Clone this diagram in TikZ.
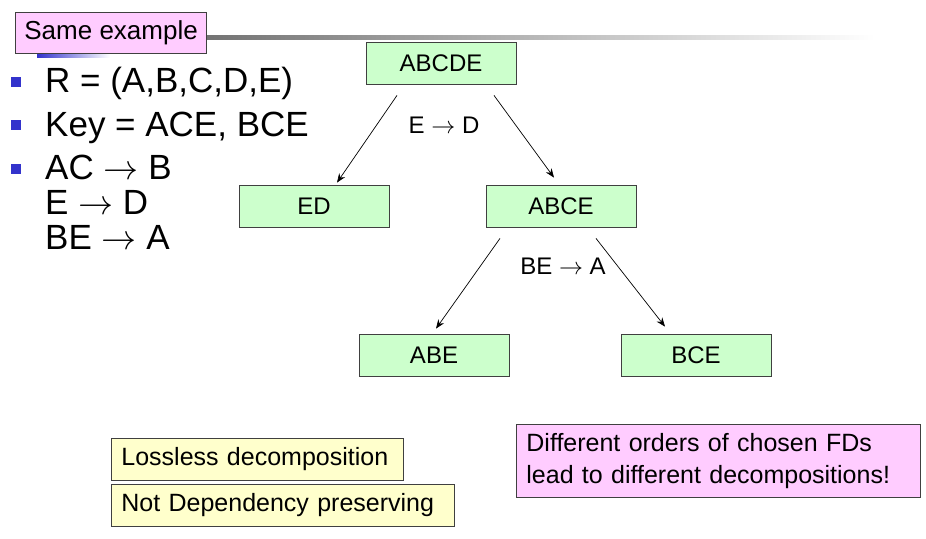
\documentclass[tikz,border=0pt]{standalone}
\DeclareFontFamily{OMS}{cmsy}{\skewchar\font48 }
\DeclareFontShape{OMS}{cmsy}{m}{n}{<-6>cmsy5<6-8>cmsy7<8->cmsy10}{}
\usepackage{fontspec}
\setmainfont{Liberation Sans}
\usepackage{tikz}
\usetikzlibrary{arrows.meta, positioning}
\definecolor{verdeRel}{RGB}{204,255,204}
\definecolor{amarilloNota}{RGB}{255,255,204}
\definecolor{rosaNota}{RGB}{255,204,255}
\definecolor{azulBullet}{RGB}{51,51,204}
\tikzset{
  dc/rel/.style={rectangle, draw=black!75, fill=verdeRel,
    minimum width=150pt, minimum height=42pt, inner sep=0pt,
    font=\fontsize{24}{27}\selectfont, line width=0.8pt},
  dc/note/.style={rectangle, draw=black!75, fill=amarilloNota,
    anchor=north west, minimum height=42pt, inner xsep=10pt, inner ysep=0pt,
    font=\fontsize{25}{32}\selectfont, align=left, line width=0.8pt},
  dc/pink/.style={dc/note, fill=rosaNota},
  dc/txt/.style={anchor=base west, inner sep=0pt, align=left,
    font=\fontsize{35}{35}\selectfont},
  dc/bul/.style={rectangle, fill=azulBullet, minimum size=10pt, inner sep=0pt},
  dc/fd/.style={font=\fontsize{24}{27}\selectfont, inner sep=0pt},
  dc/arr/.style={-{Stealth[length=9pt,width=7pt]}, line width=0.7pt}
}
\begin{document}
\begin{tikzpicture}[x=1pt, y=-1pt]
  \useasboundingbox[fill=white] (0,0) rectangle (926,538);

  % Title bar
  \shade[left color=black!55, right color=white] (205,35) rectangle (875,39);
  \shade[left color=azulBullet, right color=white] (37,50) rectangle (110,57);
  \node[dc/pink, minimum width=190pt, minimum height=41pt, inner xsep=9pt,
        font=\fontsize{26}{30}\selectfont]
        at (15,12) (title) {Same example};

  % Relation, key and FDs (base = last line)
  \node[dc/bul] at (16,82)  (b1) {};
  \node[dc/bul] at (16,125) (b2) {};
  \node[dc/bul] at (16,169) (b3) {};
  \node[dc/txt] at (45,92)  (rel) {R = (A,B,C,D,E)};
  \node[dc/txt] at (45,136) (key) {Key = ACE, BCE};
  \node[dc/txt] at (45,249) (fds) {AC $\rightarrow$ B\\E $\rightarrow$ D\\
        BE $\rightarrow$ A};

  % Decomposition tree
  \node[dc/rel] at (441,63)  (abcde) {ABCDE};
  \node[dc/rel] at (314,206) (ed)    {ED};
  \node[dc/rel] at (561,206) (abce)  {ABCE};
  \node[dc/rel] at (434,355) (abe)   {ABE};
  \node[dc/rel] at (696,355) (bce)   {BCE};

  \node[dc/fd] at (444,125) (l1) {E $\rightarrow$ D};
  \node[dc/fd] at (563,266) (l2) {BE $\rightarrow$ A};

  \draw[dc/arr] ([xshift=-44pt,yshift=-11pt]abcde.south)
        -- ([xshift=23pt,yshift=2pt]ed.north);
  \draw[dc/arr] ([xshift=53pt,yshift=-11pt]abcde.south)
        -- ([xshift=-7pt,yshift=7pt]abce.north);
  \draw[dc/arr] ([xshift=-61pt,yshift=-11pt]abce.south)
        -- ([xshift=2pt,yshift=5pt]abe.north);
  \draw[dc/arr] ([xshift=35pt,yshift=-11pt]abce.south)
        -- ([xshift=-31pt,yshift=7pt]bce.north);

  % Notes
  \node[dc/note, text width=272pt] at (111,438) (lossless)
        {Lossless decomposition};
  \node[dc/note, text width=323pt] at (111,484) (nodep)
        {Not Dependency preserving};
  \node[dc/pink, text width=384pt, minimum height=73pt] at (516,424) (orders)
        {Different orders of chosen FDs\\lead to different decompositions!};
\end{tikzpicture}
\end{document}
